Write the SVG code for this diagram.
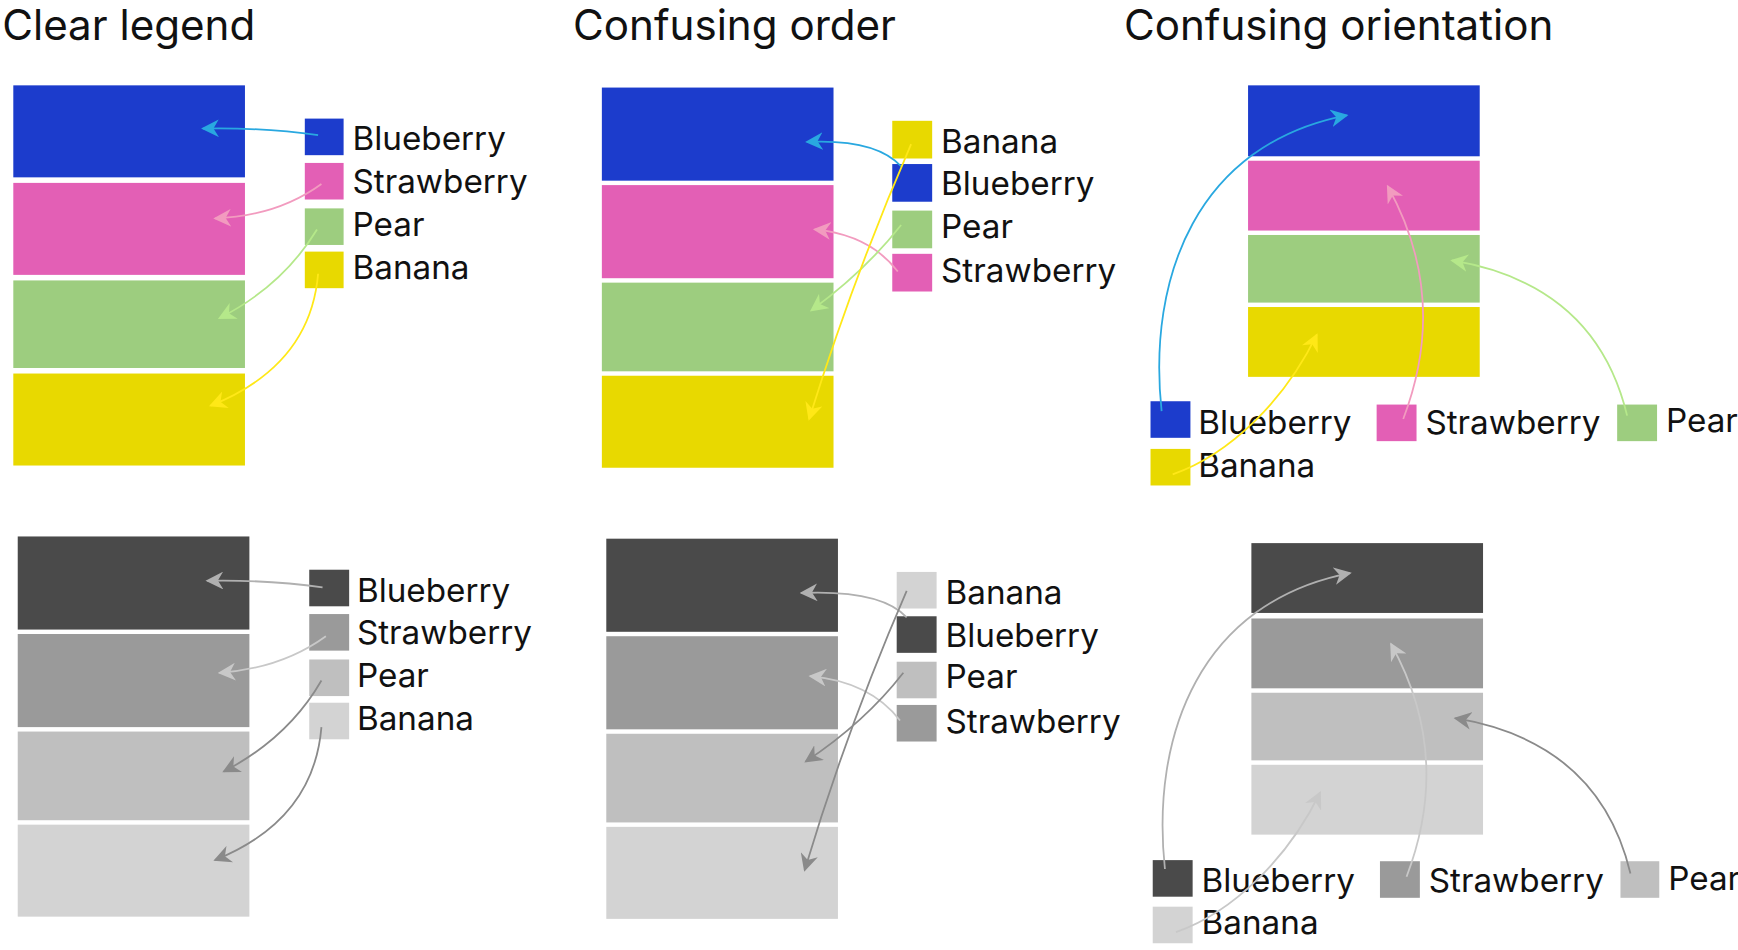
<svg xmlns="http://www.w3.org/2000/svg" width="1738" height="950" viewBox="0 0 1738 950">
<style>
text{font-family:Inter,"Noto Sans","Liberation Sans",sans-serif;fill:#111}
.t{font-size:38px}.l{font-size:30px}
.c{fill:none;stroke-width:1.6}
</style>
<defs>
<marker id="mB" viewBox="0 0 10 10" refX="9" refY="5" markerWidth="16" markerHeight="16" markerUnits="userSpaceOnUse" orient="auto"><path d="M0,0L10,5L0,10L3,5z" fill="#29a8e0"/></marker>
<marker id="mS" viewBox="0 0 10 10" refX="9" refY="5" markerWidth="16" markerHeight="16" markerUnits="userSpaceOnUse" orient="auto"><path d="M0,0L10,5L0,10L3,5z" fill="#f29bbf"/></marker>
<marker id="mP" viewBox="0 0 10 10" refX="9" refY="5" markerWidth="16" markerHeight="16" markerUnits="userSpaceOnUse" orient="auto"><path d="M0,0L10,5L0,10L3,5z" fill="#b5e88a"/></marker>
<marker id="mY" viewBox="0 0 10 10" refX="9" refY="5" markerWidth="16" markerHeight="16" markerUnits="userSpaceOnUse" orient="auto"><path d="M0,0L10,5L0,10L3,5z" fill="#ffe817"/></marker>
<marker id="gL" viewBox="0 0 10 10" refX="9" refY="5" markerWidth="16" markerHeight="16" markerUnits="userSpaceOnUse" orient="auto"><path d="M0,0L10,5L0,10L3,5z" fill="#b0b0b0"/></marker>
<marker id="gM" viewBox="0 0 10 10" refX="9" refY="5" markerWidth="16" markerHeight="16" markerUnits="userSpaceOnUse" orient="auto"><path d="M0,0L10,5L0,10L3,5z" fill="#c8c8c8"/></marker>
<marker id="gD" viewBox="0 0 10 10" refX="9" refY="5" markerWidth="16" markerHeight="16" markerUnits="userSpaceOnUse" orient="auto"><path d="M0,0L10,5L0,10L3,5z" fill="#8a8a8a"/></marker>
</defs>
<g transform="scale(1.1084)">
<g id="titles">
<text class="t" x="2" y="36">Clear legend</text>
<text class="t" x="517" y="36">Confusing order</text>
<text class="t" x="1014" y="36">Confusing orientation</text>
</g>
<g id="p1c">
<rect x="12" y="77" width="209" height="83" fill="#1c3ccc"/>
<rect x="12" y="165" width="209" height="83" fill="#e35fb5"/>
<rect x="12" y="253" width="209" height="79" fill="#9dcd7f"/>
<rect x="12" y="337" width="209" height="83" fill="#e8d900"/>
<rect x="275" y="107" width="35" height="33" fill="#1c3ccc"/><text class="l" x="318" y="135">Blueberry</text>
<rect x="275" y="147" width="35" height="33" fill="#e35fb5"/><text class="l" x="318" y="174">Strawberry</text>
<rect x="275" y="188" width="35" height="33" fill="#9dcd7f"/><text class="l" x="318" y="213">Pear</text>
<rect x="275" y="227" width="35" height="33" fill="#e8d900"/><text class="l" x="318" y="252">Banana</text>
</g>
<g id="p1g">
<rect x="16" y="484" width="209" height="84" fill="#4a4a4a"/>
<rect x="16" y="572" width="209" height="84" fill="#9a9a9a"/>
<rect x="16" y="660" width="209" height="80" fill="#bfbfbf"/>
<rect x="16" y="744" width="209" height="83" fill="#d3d3d3"/>
<rect x="279" y="514" width="36" height="33" fill="#4a4a4a"/><text class="l" x="322" y="543">Blueberry</text>
<rect x="279" y="554" width="36" height="33" fill="#9a9a9a"/><text class="l" x="322" y="581">Strawberry</text>
<rect x="279" y="595" width="36" height="33" fill="#bfbfbf"/><text class="l" x="322" y="620">Pear</text>
<rect x="279" y="634" width="36" height="33" fill="#d3d3d3"/><text class="l" x="322" y="659">Banana</text>
</g>
<g id="p2c">
<rect x="543" y="79" width="209" height="84" fill="#1c3ccc"/>
<rect x="543" y="167" width="209" height="84" fill="#e35fb5"/>
<rect x="543" y="255" width="209" height="80" fill="#9dcd7f"/>
<rect x="543" y="339" width="209" height="83" fill="#e8d900"/>
<rect x="805" y="109" width="36" height="34" fill="#e8d900"/><text class="l" x="849" y="138">Banana</text>
<rect x="805" y="148" width="36" height="34" fill="#1c3ccc"/><text class="l" x="849" y="176">Blueberry</text>
<rect x="805" y="190" width="36" height="34" fill="#9dcd7f"/><text class="l" x="849" y="215">Pear</text>
<rect x="805" y="229" width="36" height="34" fill="#e35fb5"/><text class="l" x="849" y="254">Strawberry</text>
</g>
<g id="p2g">
<rect x="547" y="486" width="209" height="84" fill="#4a4a4a"/>
<rect x="547" y="574" width="209" height="84" fill="#9a9a9a"/>
<rect x="547" y="662" width="209" height="80" fill="#bfbfbf"/>
<rect x="547" y="746" width="209" height="83" fill="#d3d3d3"/>
<rect x="809" y="516" width="36" height="33" fill="#d3d3d3"/><text class="l" x="853" y="545">Banana</text>
<rect x="809" y="556" width="36" height="33" fill="#4a4a4a"/><text class="l" x="853" y="584">Blueberry</text>
<rect x="809" y="597" width="36" height="33" fill="#bfbfbf"/><text class="l" x="853" y="621">Pear</text>
<rect x="809" y="636" width="36" height="33" fill="#9a9a9a"/><text class="l" x="853" y="661">Strawberry</text>
</g>
<g id="p3c">
<rect x="1126" y="77" width="209" height="64" fill="#1c3ccc"/>
<rect x="1126" y="145" width="209" height="63" fill="#e35fb5"/>
<rect x="1126" y="212" width="209" height="61" fill="#9dcd7f"/>
<rect x="1126" y="277" width="209" height="63" fill="#e8d900"/>
<rect x="1038" y="362" width="36" height="33" fill="#1c3ccc"/><text class="l" x="1081" y="392">Blueberry</text>
<rect x="1242" y="365" width="36" height="33" fill="#e35fb5"/><text class="l" x="1286" y="392">Strawberry</text>
<rect x="1459" y="365" width="36" height="33" fill="#9dcd7f"/><text class="l" x="1503" y="390">Pear</text>
<rect x="1038" y="405" width="36" height="33" fill="#e8d900"/><text class="l" x="1081" y="430">Banana</text>
</g>
<g id="p3g">
<rect x="1129" y="490" width="209" height="63" fill="#4a4a4a"/>
<rect x="1129" y="558" width="209" height="63" fill="#9a9a9a"/>
<rect x="1129" y="625" width="209" height="61" fill="#bfbfbf"/>
<rect x="1129" y="690" width="209" height="63" fill="#d3d3d3"/>
<rect x="1040" y="776" width="36" height="33" fill="#4a4a4a"/><text class="l" x="1084" y="805">Blueberry</text>
<rect x="1245" y="777" width="36" height="33" fill="#9a9a9a"/><text class="l" x="1289" y="805">Strawberry</text>
<rect x="1462" y="777" width="35" height="33" fill="#bfbfbf"/><text class="l" x="1505" y="803">Pear</text>
<rect x="1040" y="818" width="36" height="33" fill="#d3d3d3"/><text class="l" x="1084" y="843">Banana</text>
</g>
<g id="connectors">
<path class="c" stroke="#29a8e0" marker-end="url(#mB)" d="M287,122 Q240,115 183,116"/>
<path class="c" stroke="#f29bbf" marker-end="url(#mS)" d="M290,166 Q250,195 194,197"/>
<path class="c" stroke="#b5e88a" marker-end="url(#mP)" d="M286,207 Q255,258 198,287"/>
<path class="c" stroke="#ffe817" marker-end="url(#mY)" d="M287,247 Q280,330 190,366"/>
<path class="c" stroke="#b0b0b0" marker-end="url(#gL)" d="M291,530 Q244,523 187,524"/>
<path class="c" stroke="#c8c8c8" marker-end="url(#gM)" d="M294,574 Q254,603 198,607"/>
<path class="c" stroke="#8a8a8a" marker-end="url(#gD)" d="M290,614 Q260,666 202,696"/>
<path class="c" stroke="#8a8a8a" marker-end="url(#gD)" d="M290,656 Q283,740 194,776"/>
<path class="c" stroke="#29a8e0" marker-end="url(#mB)" d="M813,150 Q790,125 728,128"/>
<path class="c" stroke="#f29bbf" marker-end="url(#mS)" d="M810,245 Q785,212 735,207"/>
<path class="c" stroke="#b5e88a" marker-end="url(#mP)" d="M813,203 Q780,245 732,280"/>
<path class="c" stroke="#ffe817" marker-end="url(#mY)" d="M822,130 Q770,250 730,378"/>
<path class="c" stroke="#b0b0b0" marker-end="url(#gL)" d="M818,557 Q795,532 723,535"/>
<path class="c" stroke="#c8c8c8" marker-end="url(#gM)" d="M812,650 Q785,615 731,610"/>
<path class="c" stroke="#8a8a8a" marker-end="url(#gD)" d="M815,607 Q780,652 727,687"/>
<path class="c" stroke="#8a8a8a" marker-end="url(#gD)" d="M818,533 Q765,655 726,785"/>
<path class="c" stroke="#29a8e0" marker-end="url(#mB)" d="M1048,371 C1035,250 1080,130 1215,104"/>
<path class="c" stroke="#f29bbf" marker-end="url(#mS)" d="M1266,378 C1292,310 1292,240 1252,168"/>
<path class="c" stroke="#b5e88a" marker-end="url(#mP)" d="M1468,375 C1450,300 1400,250 1310,235"/>
<path class="c" stroke="#ffe817" marker-end="url(#mY)" d="M1058,428 C1110,410 1160,360 1188,302"/>
<path class="c" stroke="#b0b0b0" marker-end="url(#gL)" d="M1051,784 C1038,663 1083,543 1218,517"/>
<path class="c" stroke="#c8c8c8" marker-end="url(#gM)" d="M1269,791 C1295,723 1295,653 1255,581"/>
<path class="c" stroke="#8a8a8a" marker-end="url(#gD)" d="M1471,788 C1453,713 1403,663 1313,648"/>
<path class="c" stroke="#c8c8c8" marker-end="url(#gM)" d="M1061,841 C1113,823 1163,773 1191,715"/>
</g>
</g>
</svg>
